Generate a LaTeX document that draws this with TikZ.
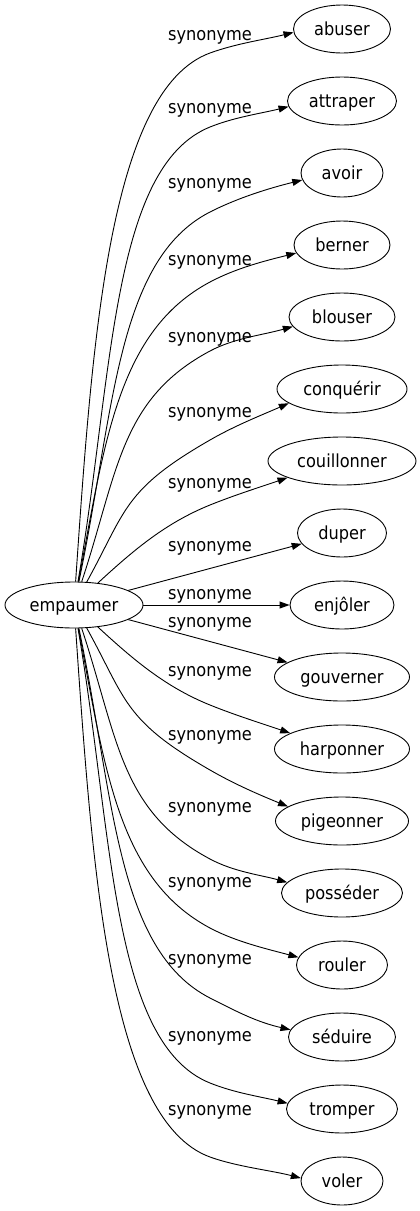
\documentclass[tikz,border=0pt]{standalone}
\usepackage{fontspec}
\setmainfont{DejaVu Sans Condensed}
\usetikzlibrary{arrows.meta,shapes.geometric}
\begin{document}
\begin{tikzpicture}[x=1pt,y=-1pt,
  every node/.style={font=\fontsize{18}{22}\selectfont},
  tgt/.style={draw, ellipse, line width=0.9pt, inner sep=0pt, minimum height=48pt, text height=12pt, text depth=0pt},
  src/.style={draw, ellipse, line width=0.9pt, inner sep=0pt, minimum height=46pt, minimum width=138pt, text height=13.4pt, text depth=0pt},
  lbl/.style={anchor=base, inner sep=0pt},
  edge/.style={line width=0.9pt, -{Triangle[length=10pt,width=7pt]}}]
\useasboundingbox (0,0) rectangle (420,1211);
% nodes
\node[src] (e) at (74,605) {empaumer};
\node[tgt, minimum width=97pt]  (abuser)      at (342,29)   {abuser};
\node[tgt, minimum width=109pt] (attraper)    at (342,101)  {attraper};
\node[tgt, minimum width=82pt]  (avoir)       at (342,173)  {avoir};
\node[tgt, minimum width=96pt]  (berner)      at (342,245)  {berner};
\node[tgt, minimum width=106pt] (blouser)     at (342,317)  {blouser};
\node[tgt, minimum width=130pt] (conquerir)   at (342,389)  {conquérir};
\node[tgt, minimum width=148pt] (couillonner) at (342,461)  {couillonner};
\node[tgt, minimum width=89pt]  (duper)       at (342,533)  {duper};
\node[tgt, minimum width=104pt] (enjoler)     at (342,605)  {enjôler};
\node[tgt, minimum width=135pt] (gouverner)   at (342,677)  {gouverner};
\node[tgt, minimum width=135pt] (harponner)   at (342,749)  {harponner};
\node[tgt, minimum width=133pt] (pigeonner)   at (342,821)  {pigeonner};
\node[tgt, minimum width=121pt] (posseder)    at (342,893)  {posséder};
\node[tgt, minimum width=91pt]  (rouler)      at (342,965)  {rouler};
\node[tgt, minimum width=107pt] (seduire)     at (342,1037) {séduire};
\node[tgt, minimum width=111pt] (tromper)     at (342,1109) {tromper};
\node[tgt, minimum width=82pt]  (voler)       at (342,1181) {voler};
% labels
\node[lbl] (l1)  at (210,40)   {synonyme};
\node[lbl] (l2)  at (210,113)  {synonyme};
\node[lbl] (l3)  at (210,188)  {synonyme};
\node[lbl] (l4)  at (210,265)  {synonyme};
\node[lbl] (l5)  at (210,342)  {synonyme};
\node[lbl] (l6)  at (210,417)  {synonyme};
\node[lbl] (l7)  at (210,488)  {synonyme};
\node[lbl] (l8)  at (210,551)  {synonyme};
\node[lbl] (l9)  at (210,599.5){synonyme};
\node[lbl] (l10) at (210,627)  {synonyme};
\node[lbl] (l11) at (210,676)  {synonyme};
\node[lbl] (l12) at (210,740)  {synonyme};
\node[lbl] (l13) at (210,812)  {synonyme};
\node[lbl] (l14) at (210,887)  {synonyme};
\node[lbl] (l15) at (210,964)  {synonyme};
\node[lbl] (l16) at (210,1041) {synonyme};
\node[lbl] (l17) at (210,1115) {synonyme};
% edges (upper)
\draw[edge] (e) .. controls (92,344) and (108.5,90) .. (210,53) .. controls (236.8,43.3) and (265.5,39.4) .. (abuser.184);
\draw[edge] (e) .. controls (113,377) and (111,167) .. (210,127) .. controls (234.6,117.1) and (261.3,113.4) .. (attraper.186);
\draw[edge] (e) .. controls (114,414) and (116,260) .. (210,212) .. controls (238.5,197.5) and (270,188) .. (avoir.190);
\draw[edge] (e) .. controls (105,441) and (118,331) .. (210,282) .. controls (236.1,268.1) and (265.4,260.7) .. (berner.190);
\draw[edge] (e) .. controls (118,472) and (120,399) .. (210,351) .. controls (234.2,338.1) and (262.5,335.1) .. (blouser.191);
\draw[edge] (e) .. controls (126.5,510) and (123,490) .. (210,440) .. controls (235.1,425.5) and (262.1,414.9) .. (conquerir.195);
\draw[edge] (e) .. controls (133.7,550) and (165.5,523) .. (210,505) .. controls (235.5,494.7) and (262,486.5) .. (couillonner.197.5);
\draw[edge] (e) -- (duper);
\draw[edge] (e) -- (enjoler);
\draw[edge] (e) -- (gouverner);
% edges (lower)
\draw[edge] (e) .. controls (133.7,660) and (165.5,687) .. (210,705) .. controls (235.5,715.3) and (262,723.5) .. (harponner.163);
\draw[edge] (e) .. controls (126.5,700) and (123,720) .. (210,770) .. controls (235.1,784.5) and (260.1,795.1) .. (pigeonner.165);
\draw[edge] (e) .. controls (118,738) and (120,811) .. (210,859) .. controls (234.2,871.9) and (260.5,874.9) .. (posseder.169);
\draw[edge] (e) .. controls (105,769) and (118,879) .. (210,928) .. controls (236.1,941.9) and (268.4,949.3) .. (rouler.170);
\draw[edge] (e) .. controls (114,796) and (116,950) .. (210,998) .. controls (238.5,1012.5) and (257,1022) .. (seduire.172);
\draw[edge] (e) .. controls (113,833) and (111,1043) .. (210,1083) .. controls (234.6,1092.9) and (260.3,1096.6) .. (tromper.174);
\draw[edge] (e) .. controls (92,866) and (108.5,1120) .. (210,1157) .. controls (236.8,1166.7) and (272.5,1170.6) .. (voler.176);
\end{tikzpicture}
\end{document}
